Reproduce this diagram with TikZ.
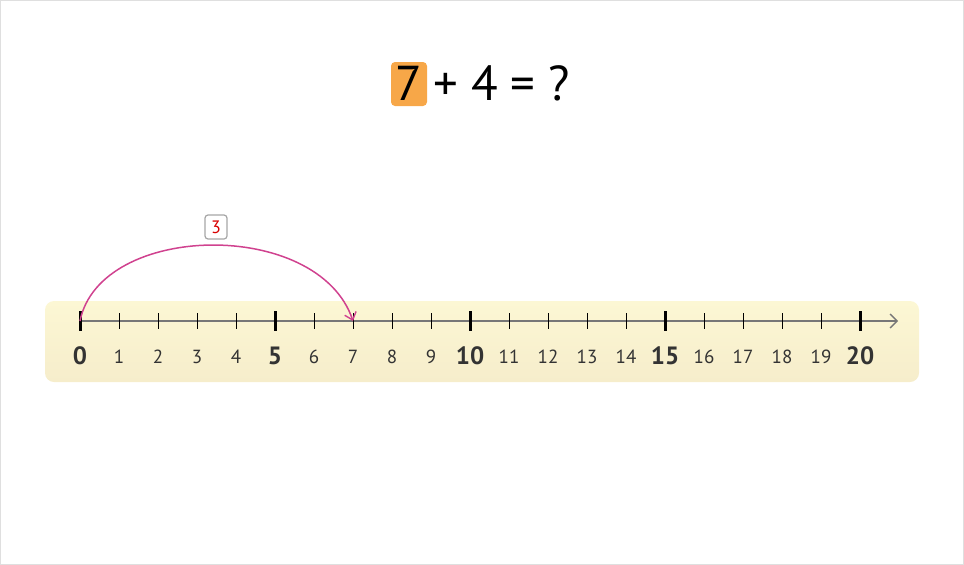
\documentclass[tikz,border=0pt]{standalone}
\usepackage{fontspec}
\setmainfont{PT Sans}
\usetikzlibrary{arrows.meta}
\definecolor{bandtop}{HTML}{FCF7D4}
\definecolor{bandbot}{HTML}{F6EDCB}
\definecolor{axisgray}{HTML}{777777}
\definecolor{hopcol}{HTML}{D0428F}
\definecolor{orangebox}{HTML}{F7A748}
\definecolor{numcol}{HTML}{333333}
\tikzset{
  minortick/.style={line width=1pt, draw=black},
  majortick/.style={line width=3pt, draw=black},
  minorlab/.style={font=\fontsize{19}{19}\selectfont, text=numcol, anchor=base},
  majorlab/.style={font=\fontsize{25}{25}\selectfont\bfseries, text=numcol, anchor=base},
  hopbox/.style={draw=gray!70, line width=1.2pt, rounded corners=3pt, fill=white, text=red!85!black, font=\fontsize{18}{18}\selectfont, minimum width=22pt, minimum height=24pt, inner sep=0pt},
}
\begin{document}
\begin{tikzpicture}[x=1pt,y=-1pt]
\useasboundingbox (0,0) rectangle (964,565);
\draw[draw=gray!25, line width=1pt] (0.5,0.5) rectangle (963.5,564.5);
% title
\node[fill=orangebox, rounded corners=4pt, minimum width=36pt, minimum height=44pt, inner sep=0pt] (seven) at (409,84) {};
\node[font=\fontsize{49}{49}\selectfont, anchor=base, inner sep=0pt] (t7) at (409,100) {7};
\node[font=\fontsize{49}{49}\selectfont, anchor=base west, inner sep=0pt] (rest) at (433,100) {+ 4 = ?};
% band
\shade[top color=bandtop, bottom color=bandbot, rounded corners=9pt] (45,301) rectangle (919,382);
% axis
\coordinate (a0) at (80,321);
\coordinate (aend) at (898,321);
\draw[axisgray, line width=1.6pt, -{Straight Barb[length=7pt,width=14pt,line width=1.4pt]}] (a0) -- (aend);
\foreach \i in {0,...,20}{
  \pgfmathtruncatemacro{\r}{mod(\i,5)}
  \ifnum\r=0
    \draw[majortick] (80+39*\i,311) -- (80+39*\i,331);
    \node[majorlab] (n\i) at (80+39*\i,364) {\i};
  \else
    \draw[minortick] (80+39*\i,313) -- (80+39*\i,329);
    \node[minorlab] (n\i) at (80+39*\i,363) {\i};
  \fi
}
% hop
\coordinate (h0) at (80,321);
\coordinate (h7) at (353,321);
\draw[hopcol, line width=1.5pt, -{Straight Barb[length=7pt,width=12pt,line width=1.4pt]}] (h0) .. controls (100,222) and (318,218) .. (h7);
\node[hopbox] (lab) at (216,227) {3};
\end{tikzpicture}
\end{document}
